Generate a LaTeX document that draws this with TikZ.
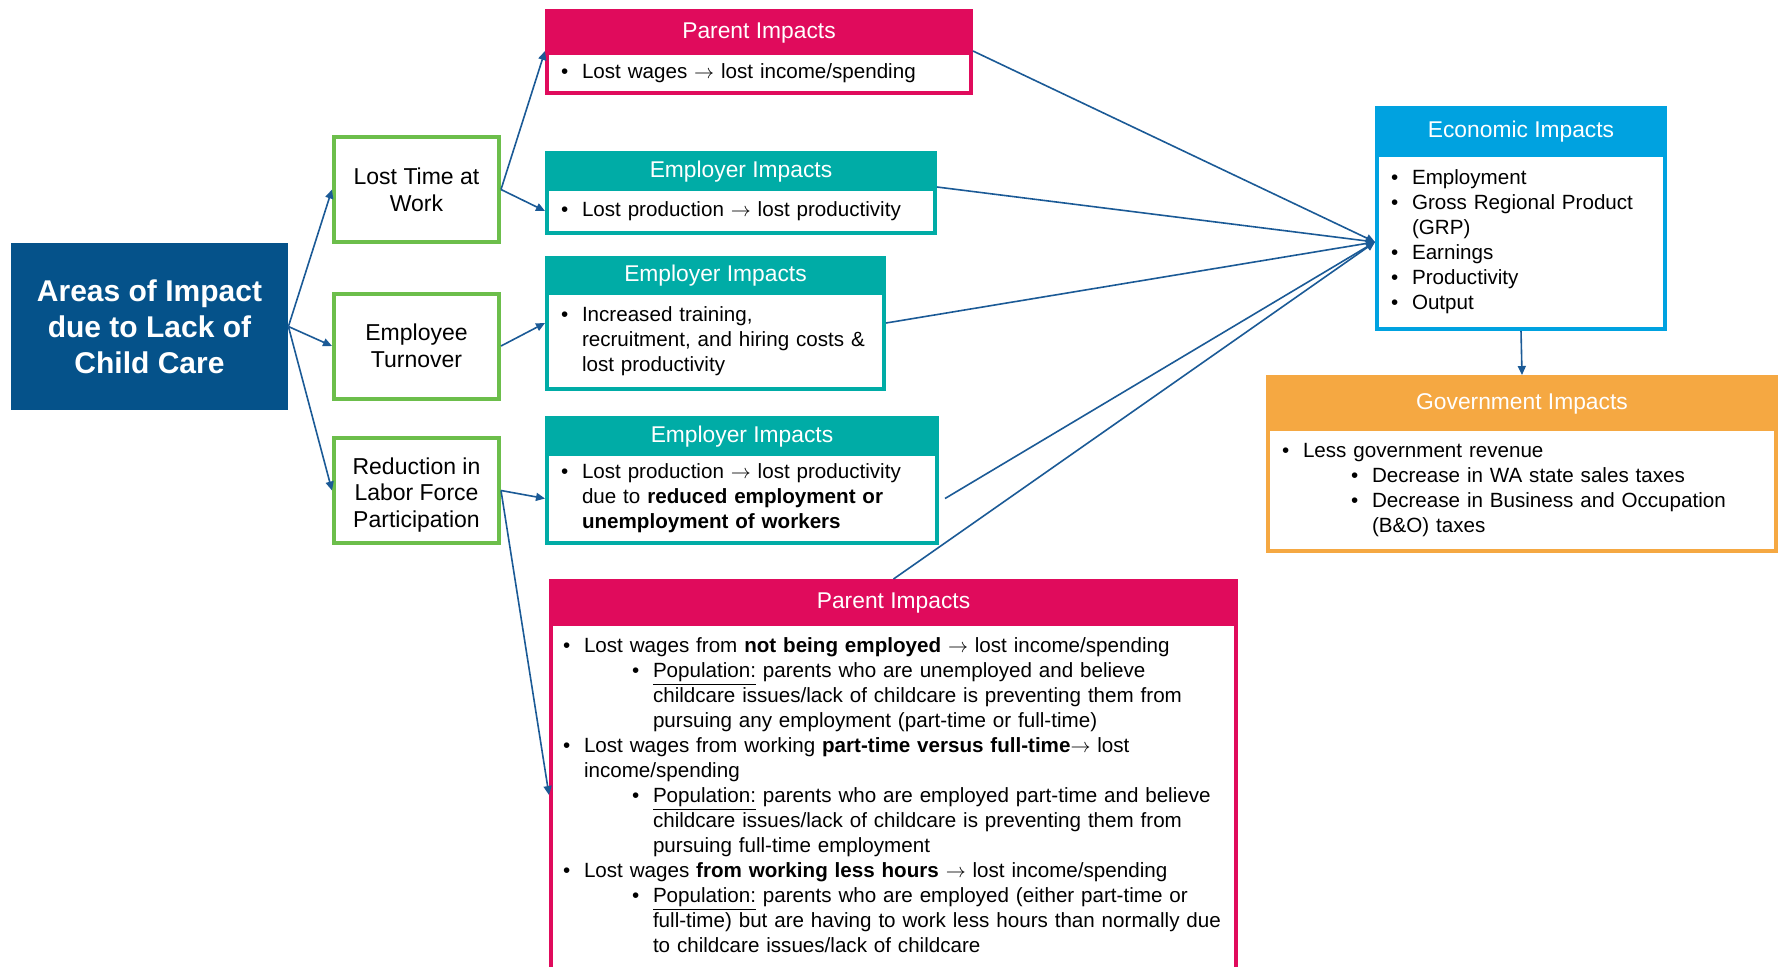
\documentclass[tikz,border=0pt]{standalone}
\usepackage{fontspec}
\setmainfont{Liberation Sans}
\usetikzlibrary{positioning,arrows.meta}
\definecolor{areablue}{RGB}{5,82,138}
\definecolor{lossgreen}{RGB}{108,190,75}
\definecolor{parentred}{RGB}{224,11,92}
\definecolor{employteal}{RGB}{0,172,166}
\definecolor{econblue}{RGB}{0,162,224}
\definecolor{govorange}{RGB}{245,168,66}
\definecolor{linkblue}{RGB}{27,90,150}
\newcommand{\bitem}{\makebox[10.5pt][l]{\textbullet}}
\newcommand{\subitm}{\hspace*{34.5pt}\bitem}
\newcommand{\subcont}{\hspace*{45pt}}
\newcommand{\towards}{$\rightarrow$}
\begin{document}
\begin{tikzpicture}[x=0.5pt,y=-0.5pt,
  hdr/.style={fill=#1,draw=#1,line width=2pt,text=white,font=\fontsize{11.4pt}{13pt}\selectfont,inner sep=0pt,text height=8.2pt,text depth=0pt},
  bodytxt/.style={draw=#1,line width=2pt,fill=white,font=\fontsize{10.3pt}{12.5pt}\selectfont,align=left,inner xsep=7pt,inner ysep=2pt},
  area/.style={draw=lossgreen,line width=2pt,align=center,font=\fontsize{11.5pt}{13.3pt}\selectfont,minimum width=82.5pt,minimum height=52.5pt,inner sep=0pt},
  link/.style={-{Triangle[length=4.5pt,width=4pt]},line width=0.8pt,linkblue}]
\useasboundingbox (0,0) rectangle (1781,966);
\clip (0,0) rectangle (1781,966);
\node[fill=areablue,text=white,font=\bfseries\fontsize{15pt}{18pt}\selectfont,align=center,minimum width=138.5pt,minimum height=83.5pt] (areas) at (149.5,326.5) {Areas of Impact\\due to Lack of\\Child Care};
% areas
\node[area] (lost) at (416.5,189.5) {Lost Time at\\Work};
\node[area] (turn) at (416.5,346) {Employee\\Turnover};
\node[area] (labor) at (416.5,490.5) {\rule{0pt}{12.5pt}Reduction in\\Labor Force\\Participation};
% impacts
\node[hdr=parentred,minimum width=212pt,minimum height=19pt,anchor=north] (par1h) at (759,9) {Parent Impacts};
\node[bodytxt=parentred,text width=198pt,minimum height=20pt,below=0pt of par1h] (par1b) {\bitem Lost wages \towards{} lost income/spending};
\node[hdr=employteal,minimum width=194pt,minimum height=16pt,anchor=north] (emp1h) at (741,151) {Employer Impacts};
\node[bodytxt=employteal,text width=180pt,minimum height=22pt,below=0pt of emp1h] (emp1b) {\bitem Lost production \towards{} lost productivity};
\node[hdr=employteal,minimum width=168.5pt,minimum height=15.5pt,anchor=north] (emp2h) at (715.5,256) {Employer Impacts};
\node[bodytxt=employteal,text width=154.5pt,minimum height=48pt,below=0pt of emp2h] (emp2b) {\bitem Increased training,\\\hspace*{10.5pt}recruitment, and hiring costs \&\\\hspace*{10.5pt}lost productivity};
\node[hdr=employteal,minimum width=195pt,minimum height=16pt,anchor=north] (emp3h) at (742,416) {Employer Impacts};
\node[bodytxt=employteal,text width=181pt,minimum height=44.5pt,below=0pt of emp3h] (emp3b) {\bitem Lost production \towards{} lost productivity\\\hspace*{10.5pt}due to \textbf{reduced employment or}\\\hspace*{10.5pt}\textbf{unemployment of workers}};
\node[hdr=parentred,minimum width=342.5pt,minimum height=19.5pt,anchor=north] (par2h) at (893.5,579) {Parent Impacts};
\node[bodytxt=parentred,text width=330.5pt,inner xsep=6pt,inner ysep=6.5pt,text height=7.5pt,text depth=170pt,below=0pt of par2h] (par2b) {\bitem Lost wages from \textbf{not being employed} \towards{} lost income/spending\\
\subitm\underline{Population:} parents who are unemployed and believe\\
\subcont childcare issues/lack of childcare is preventing them from\\
\subcont pursuing any employment (part-time or full-time)\\
\bitem Lost wages from working \textbf{part-time versus full-time}\towards{} lost\\
\hspace*{10.5pt}income/spending\\
\subitm\underline{Population:} parents who are employed part-time and believe\\
\subcont childcare issues/lack of childcare is preventing them from\\
\subcont pursuing full-time employment\\
\bitem Lost wages \textbf{from working less hours} \towards{} lost income/spending\\
\subitm\underline{Population:} parents who are employed (either part-time or\\
\subcont\mbox{full-time) but are having to work less hours than normally due}\\
\subcont to childcare issues/lack of childcare};
\node[hdr=econblue,minimum width=144pt,minimum height=21.5pt,anchor=north] (econh) at (1521,106) {Economic Impacts};
\node[bodytxt=econblue,text width=130pt,minimum height=87pt,below=0pt of econh] (econb) {\bitem Employment\\\bitem Gross Regional Product\\\hspace*{10.5pt}(GRP)\\\bitem Earnings\\\bitem Productivity\\\bitem Output};
\node[hdr=govorange,minimum width=254pt,minimum height=24pt,anchor=north] (govh) at (1522,375) {Government Impacts};
\node[bodytxt=govorange,text width=240pt,minimum height=61pt,below=0pt of govh] (govb) {\bitem Less government revenue\\\subitm Decrease in WA state sales taxes\\\subitm Decrease in Business and Occupation\\\subcont(B\&O) taxes};
% links
\draw[link] (areas.east) -- (lost.west); \draw[link] (areas.east) -- (turn.west); \draw[link] (areas.east) -- (labor.west);
\draw[link] (lost.east) -- (par1b.north west); \draw[link] (lost.east) -- (emp1b.west);
\draw[link] (turn.east) -- ([yshift=9pt]emp2b.west);
\draw[link] (labor.east) -- (emp3b.west); \draw[link] (labor.east) -- ([yshift=-86.5pt]par2b.north west);
\draw[link] (par1b.north east) -- (econb.west);
\draw[link] (emp1h.south east) -- (econb.west);
\draw[link] ([yshift=9pt]emp2b.east) -- (econb.west);
\draw[link] ([xshift=3pt]emp3b.east) -- (econb.west);
\draw[link] (par2h.north) -- (econb.west);
\draw[link] (econb.south) -- (govh.north);
\end{tikzpicture}
\end{document}
